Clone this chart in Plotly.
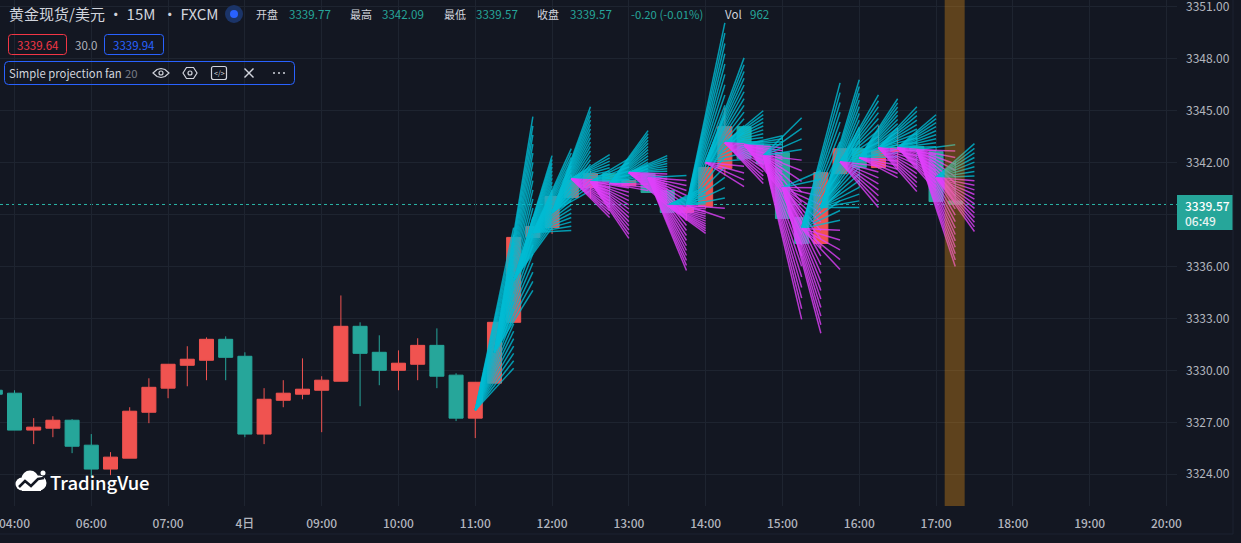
import plotly.graph_objects as go

# ---------- data ----------
bar_index = list(range(-25, 26))
opens = [3328.78,3328.61,3326.48,3326.59,3327.05,3325.61,3324.23,3324.86,3327.51,3328.90,3330.22,3330.51,3331.72,3330.74,3326.25,3328.20,3328.55,3328.78,3329.30,3332.47,3330.97,3329.93,3330.28,3331.37,3329.65,3327.17,
         3329.19,3332.70,3337.60,3338.17,3339.90,3340.48,3341.28,3340.59,3341.28,3340.30,3339.04,3339.38,3341.57,3343.99,3342.89,3342.49,3338.75,3337.25,3341.28,3342.72,3341.63,3342.55,3342.84,3342.55,3339.77]
closes = [3328.55,3326.48,3326.65,3327.05,3325.55,3324.23,3324.92,3327.57,3328.95,3330.28,3330.57,3331.72,3330.68,3326.25,3328.26,3328.61,3328.84,3329.36,3332.47,3330.91,3329.93,3330.34,3331.37,3329.59,3327.17,3329.24,
          3332.70,3337.60,3338.23,3339.96,3340.88,3341.28,3340.82,3340.88,3340.19,3339.04,3339.32,3341.63,3343.99,3342.15,3341.86,3338.69,3337.25,3341.34,3342.72,3341.63,3342.61,3342.78,3342.61,3339.67,3339.57]
highs = [3328.78,3328.78,3327.17,3327.28,3327.11,3326.25,3325.21,3327.80,3329.47,3330.28,3331.32,3331.83,3331.89,3330.97,3328.90,3329.36,3330.62,3329.59,3334.25,3332.70,3331.95,3331.08,3331.78,3332.35,3329.76,3329.24,
         3332.70,3337.60,3338.23,3340.30,3341.17,3341.45,3341.34,3340.99,3341.34,3340.42,3339.44,3342.03,3345.08,3343.99,3343.01,3343.47,3338.86,3341.34,3342.72,3343.93,3344.05,3343.93,3343.76,3342.78,3342.09]
lows = [3328.55,3326.48,3325.67,3326.07,3325.15,3323.79,3323.88,3324.86,3326.88,3328.32,3329.01,3329.36,3329.36,3326.07,3325.67,3327.80,3328.26,3326.36,3329.30,3327.86,3329.07,3328.78,3329.36,3328.90,3327.00,3326.02,
        3329.19,3332.70,3337.54,3337.80,3339.90,3339.84,3339.32,3340.53,3340.19,3338.98,3338.57,3339.27,3341.17,3342.03,3341.74,3338.69,3337.13,3336.96,3341.28,3340.48,3341.57,3341.57,3341.57,3339.67,3339.57]

fan_bar = list(range(0, 25))
fan_apex = [3327.63,3330.97,3335.12,3337.88,3339.04,3340.99,3340.82,3340.71,3341.34,3341.05,3339.44,3339.44,3341.92,3343.07,3342.95,3342.32,3340.48,3338.11,3339.32,3341.97,3342.20,3342.78,3342.78,3342.66,3341.05]
fan_top = [3338.17,3344.57,3342.32,3342.72,3345.14,3342.38,3342.15,3343.76,3342.32,3341.17,3340.53,3349.98,3347.96,3344.91,3343.47,3344.51,3341.45,3346.52,3346.70,3345.83,3345.60,3345.14,3344.68,3342.95,3343.01]
fan_bottom = [3330.05,3334.54,3338.17,3338.00,3340.30,3338.75,3337.54,3340.30,3339.44,3335.69,3337.83,3338.69,3340.53,3340.71,3340.19,3332.87,3332.07,3335.75,3339.32,3339.32,3341.05,3340.25,3340.30,3335.92,3337.94]
FAN_LINES = 20
FAN_REACH = 2

# The readings above were taken against the label centres; the gridlines sit a little lower.
READ_CORRECTION = 0.07
def corrected(values, keep_last=False):
    out = [round(v + READ_CORRECTION, 2) for v in values]
    if keep_last:
        out[-1] = values[-1]
    return out
opens, closes, highs, lows = (corrected(v, True) for v in (opens, closes, highs, lows))
fan_apex, fan_top, fan_bottom = (corrected(v) for v in (fan_apex, fan_top, fan_bottom))

tick_bars = [-24,-20,-16,-12,-8,-4,0,4,8,12,16,20,24,28,32,36]
tick_text = ["04:00","06:00","07:00","4日","09:00","10:00","11:00","12:00","13:00","14:00","15:00","16:00","17:00","18:00","19:00","20:00"]
price_ticks = [3324,3327,3330,3333,3336,3339,3342,3345,3348,3351]
price_text = ["3324.00","3327.00","3330.00","3333.00","3336.00","","3342.00","3345.00","3348.00","3351.00"]
last_price = 3339.57
session_bar = 25

# ---------- style ----------
BG = "#131722"; GRID = "#1e2430"; RED = "#f05350"; TEAL = "#26a69a"
FAN_UP = "#00bcd4"; FAN_DN = "#e040fb"; TXT = "#d1d4dc"; AXT = "#b2b5be"
FONT = "Noto Sans CJK SC"
W_PLOT, H_PLOT = 1177.0, 506.0

def X(p): return p / W_PLOT
def Y(p): return 1 - p / H_PLOT

fig = go.Figure()
fig.add_trace(go.Candlestick(
    x=bar_index, open=opens, high=highs, low=lows, close=closes,
    increasing=dict(line=dict(color=RED, width=1), fillcolor=RED),
    decreasing=dict(line=dict(color=TEAL, width=1), fillcolor=TEAL),
    whiskerwidth=0, showlegend=False, hoverinfo="skip"))

for b, a, t, lo in zip(fan_bar, fan_apex, fan_top, fan_bottom):
    for k in range(FAN_LINES):
        end = t + (lo - t) * k / (FAN_LINES - 1)
        fig.add_trace(go.Scatter(
            x=[b, b + FAN_REACH], y=[a, end], mode="lines",
            line=dict(color=FAN_UP if end >= a else FAN_DN, width=1.5),
            opacity=0.8, showlegend=False, hoverinfo="skip"))

def txt(x, y, s, color=TXT, size=11, anchor="left", weight=None):
    f = dict(family=FONT, color=color, size=size)
    if weight: f["weight"] = weight
    fig.add_annotation(xref="paper", yref="paper", x=X(x), y=Y(y), text=s, showarrow=False,
                       xanchor=anchor, yanchor="middle", font=f, borderpad=0)

def rrect(x0, y0, x1, y1, r, color, lw=1, fill="rgba(0,0,0,0)"):
    pts = (f"M{X(x0+r)},{Y(y0)} L{X(x1-r)},{Y(y0)} Q{X(x1)},{Y(y0)} {X(x1)},{Y(y0+r)} "
           f"L{X(x1)},{Y(y1-r)} Q{X(x1)},{Y(y1)} {X(x1-r)},{Y(y1)} L{X(x0+r)},{Y(y1)} "
           f"Q{X(x0)},{Y(y1)} {X(x0)},{Y(y1-r)} L{X(x0)},{Y(y0+r)} Q{X(x0)},{Y(y0)} {X(x0+r)},{Y(y0)} Z")
    fig.add_shape(type="path", xref="paper", yref="paper", path=pts,
                  line=dict(color=color, width=lw), fillcolor=fill, layer="above")

def circ(cx, cy, r, fill, lw=0, line=None):
    fig.add_shape(type="circle", xref="paper", yref="paper", x0=X(cx-r), x1=X(cx+r), y0=Y(cy+r), y1=Y(cy-r),
                  fillcolor=fill, line=dict(color=line or fill, width=lw), layer="above")

def poly(points, color, lw=1.2, fill="rgba(0,0,0,0)", close=False):
    d = "M" + " L".join(f"{X(a)},{Y(b)}" for a, b in points) + (" Z" if close else "")
    fig.add_shape(type="path", xref="paper", yref="paper", path=d,
                  line=dict(color=color, width=lw), fillcolor=fill, layer="above")

# last price + session band
fig.add_shape(type="line", xref="paper", x0=0, x1=1, yref="y", y0=last_price, y1=last_price,
              line=dict(color="#2bb5a6", width=1, dash="dot"), layer="below")
fig.add_shape(type="rect", xref="x", yref="paper", x0=session_bar-0.55, x1=session_bar+0.49, y0=0, y1=1,
              fillcolor="rgba(255,160,20,0.32)", line=dict(width=0), layer="above")

# price label
fig.add_shape(type="rect", xref="paper", yref="paper", x0=X(1177), x1=X(1233), y0=Y(230), y1=Y(195),
              fillcolor=TEAL, line=dict(width=0), layer="above")
txt(1184, 205, "3339.57", "#ffffff", 12, weight=500)
txt(1184, 221, "06:49", "#e8f3f2", 12, weight=500)

# frame lines
fig.add_shape(type="line", xref="paper", yref="paper", x0=X(1233), x1=X(1233), y0=Y(534), y1=Y(0), line=dict(color="#1c2230", width=1), layer="above")
fig.add_shape(type="line", xref="paper", yref="paper", x0=0, x1=X(1233), y0=Y(534), y1=Y(534), line=dict(color="#1c2230", width=1), layer="above")

# header
txt(8, 14, "黄金现货/美元 · 15M  · FXCM", TXT, 15)
circ(234, 14, 9, "#1b3468")
circ(234, 14, 4, "#2962ff")
for lx, lab, vx, val in [(255,"开盘",288,"3339.77"),(349,"最高",381,"3342.09"),(443,"最低",475,"3339.57"),(536,"收盘",569,"3339.57")]:
    txt(lx, 14, lab, TXT, 11)
    txt(vx, 14, val, TEAL, 11.6)
txt(630, 14, "-0.20 (-0.01%)", TEAL, 11.3)
txt(724, 14, "Vol", TXT, 11.5)
txt(749, 14, "962", TEAL, 11.6)

rrect(8.5, 34.5, 66.5, 54.5, 3, "#f23645")
txt(16, 45, "3339.64", "#f23645", 11.5)
txt(74, 45, "30.0", AXT, 11.5)
rrect(104.5, 34.5, 163.5, 54.5, 3, "#2962ff")
txt(112, 45, "3339.94", "#2962ff", 11.5)
rrect(4.5, 61.5, 294.5, 84.5, 4, "#2962ff")
txt(8, 73, "Simple projection fan", TXT, 11.3)
txt(124, 73, "20", "#787b86", 11.3)

# icons
poly([(153,73),(157,69.5),(161,68.5),(165,69.5),(169,73),(165,76.5),(161,77.5),(157,76.5)], TXT, close=True)
circ(161, 73, 2, "rgba(0,0,0,0)", 1.2, TXT)
poly([(183,73),(186.5,67.5),(193.5,67.5),(197,73),(193.5,78.5),(186.5,78.5)], TXT, close=True)
circ(190, 73, 2, "rgba(0,0,0,0)", 1.2, TXT)
rrect(211.5, 66.5, 226.5, 79.5, 2, TXT, 1.2)
txt(219, 73, "&lt;/&gt;", TXT, 7, "center")
poly([(244.5,68.5),(253.5,77.5)], TXT, 1.4)
poly([(253.5,68.5),(244.5,77.5)], TXT, 1.4)
for cx in (274, 279, 284):
    circ(cx, 73, 1, TXT)

# logo
for cx, cy, r in [(22,484,6.5),(30,479,8.5),(39,483,7.5)]:
    circ(cx, cy, r, "#ffffff")
fig.add_shape(type="rect", xref="paper", yref="paper", x0=X(22), x1=X(41), y0=Y(491), y1=Y(482), fillcolor="#ffffff", line=dict(width=0), layer="above")
circ(43, 473, 2.5, "#ffffff")
poly([(19,487),(25,481),(31,486),(38,479),(44,478)], BG, 2.5)
txt(49, 482, "TradingVue", "#ffffff", 18.5, weight=500)

fig.update_layout(
    width=1241, height=543, margin=dict(l=0, r=64, t=0, b=37, pad=0, autoexpand=False),
    paper_bgcolor=BG, plot_bgcolor=BG, showlegend=False, boxgap=0.27, boxgroupgap=0,
    font=dict(family=FONT, color=AXT, size=12),
    xaxis=dict(range=[-24.755, 36.55], tickvals=tick_bars, ticktext=tick_text, showgrid=True, gridcolor=GRID, gridwidth=1,
               zeroline=False, showline=False, ticks="", rangeslider=dict(visible=False), ticklabeloverflow="allow",
               ticklabelstandoff=9, tickfont=dict(family=FONT, size=12, color=AXT, weight=500)),
    yaxis=dict(range=[3322.17, 3351.37], side="right", tickvals=price_ticks, ticktext=price_text, showgrid=True, gridcolor=GRID,
               gridwidth=1, zeroline=False, showline=False, ticks="", ticklabelstandoff=8, ticklabeloverflow="allow",
               tickfont=dict(family=FONT, size=12, color=AXT)),
)
fig.write_html("out.html", config=dict(displayModeBar=False),
               post_script="document.body.style.margin='0';document.body.style.background='#131722';")
